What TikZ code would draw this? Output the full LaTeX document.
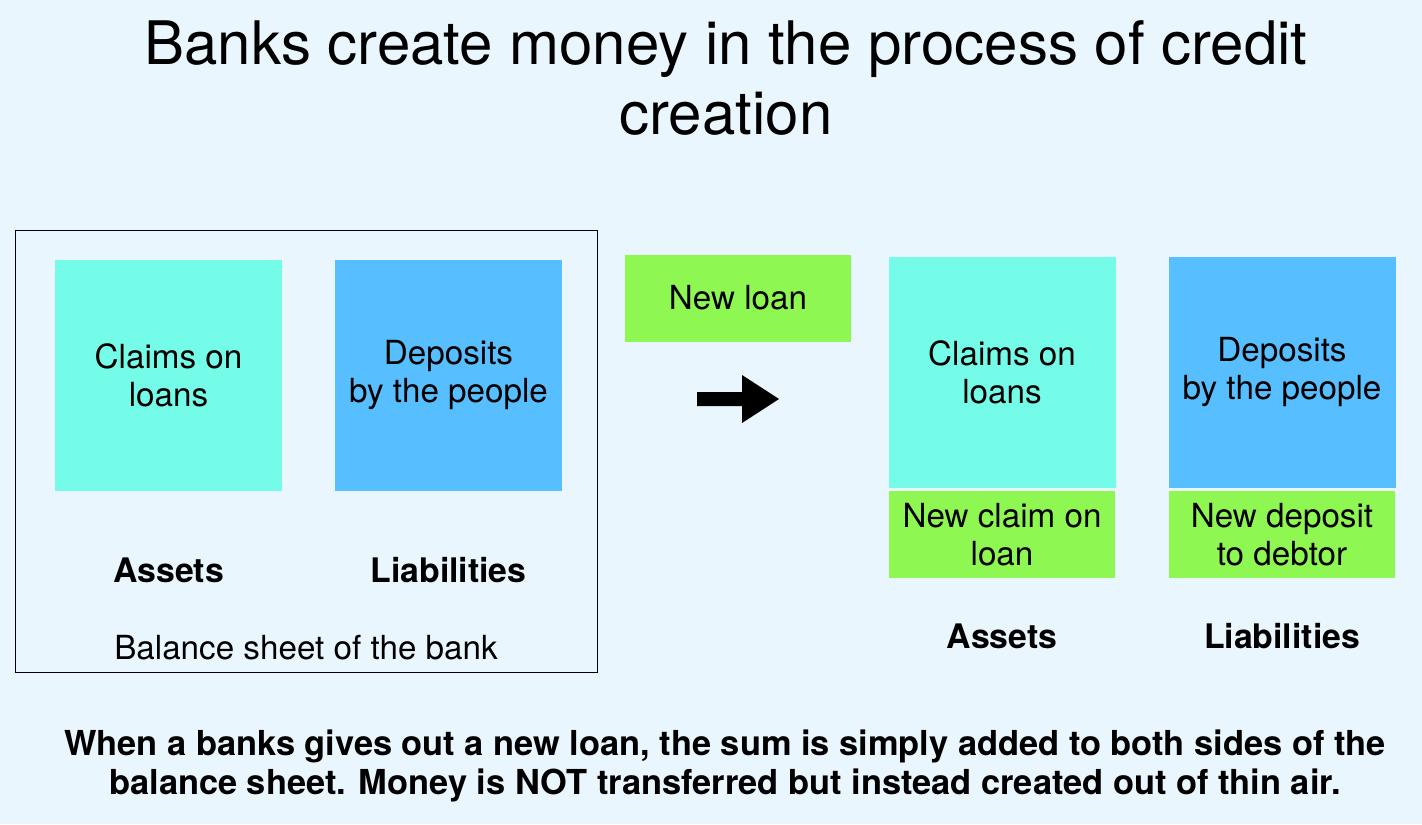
\documentclass[tikz,border=0pt]{standalone}
\usepackage{fontspec}
\setmainfont{TeX Gyre Heros}
\usetikzlibrary{positioning}
\definecolor{sheet-bg}{RGB}{234,246,253}
\definecolor{claim-c}{RGB}{116,252,232}
\definecolor{depo-c}{RGB}{87,190,255}
\definecolor{new-c}{RGB}{143,247,82}
\tikzset{
  body/.style={font=\fontsize{16.6}{19}\selectfont,align=center},
  box-a/.style={body,fill=claim-c,minimum width=113.5pt,minimum height=115.5pt,inner sep=0pt},
  box-l/.style={body,fill=depo-c,minimum width=113.5pt,minimum height=115.5pt,inner sep=0pt},
  box-n/.style={body,fill=new-c,minimum width=113pt,minimum height=43.5pt,inner sep=0pt},
  side/.style={font=\fontsize{16.9}{19}\selectfont\bfseries},
  frame/.style={draw,line width=0.5pt,minimum width=291pt,minimum height=221pt,inner sep=0pt},
}

\begin{document}
\begin{tikzpicture}[x=0.5pt,y=-0.5pt]

  \fill[sheet-bg] (0,0) rectangle (1422,824);
  \useasboundingbox (0,0) rectangle (1422,824);

  \node[font=\fontsize{30}{35}\selectfont,align=center] (title) at (726,78)
    {Banks create money in the process of credit\\creation};

  % BEFORE: balance sheet of the bank
  \node[frame] (sheet) at (306,451) {};
  \node[box-a] (a1) at (168.5,375.5) {Claims on\\loans};
  \node[box-l] (l1) at (448.5,375.5) {Deposits\\by the people};
  \node[side]  (sa1) at (168.5,570) {Assets};
  \node[side]  (sl1) at (448.5,570) {Liabilities};
  \node[body]  (bal) at (306,648) {Balance sheet of the bank};

  % LOAN AND ARROW
  \node[box-n] (loan) at (738,298) {New loan};
  \coordinate (arr) at (697,399);
  \fill (arr) ++(0,-7) -- ++(45,0) -- ++(0,-17) -- ++(37,24) -- ++(-37,24)
    -- ++(0,-17) -- ++(-45,0) -- cycle;

  % AFTER: both sides grow
  \node[box-a] (a2)  at (1002,372)   {Claims on\\loans};
  \node[box-n] (na2) at (1002,534.5) {New claim on\\loan};
  \node[box-l] (l2)  at (1282,372)   {Deposits\\by the people};
  \node[box-n] (nl2) at (1282,534.5) {New deposit\\to debtor};
  \node[side]  (sa2) at (1002,636) {Assets};
  \node[side]  (sl2) at (1282,636) {Liabilities};

  \node[font=\fontsize{17.2}{19.5}\selectfont\bfseries,align=center] (note) at (725,766)
    {When a banks gives out a new loan, the sum is simply added to both sides of the\\
     balance sheet. Money is NOT transferred but instead created out of thin air.};

\end{tikzpicture}
\end{document}
